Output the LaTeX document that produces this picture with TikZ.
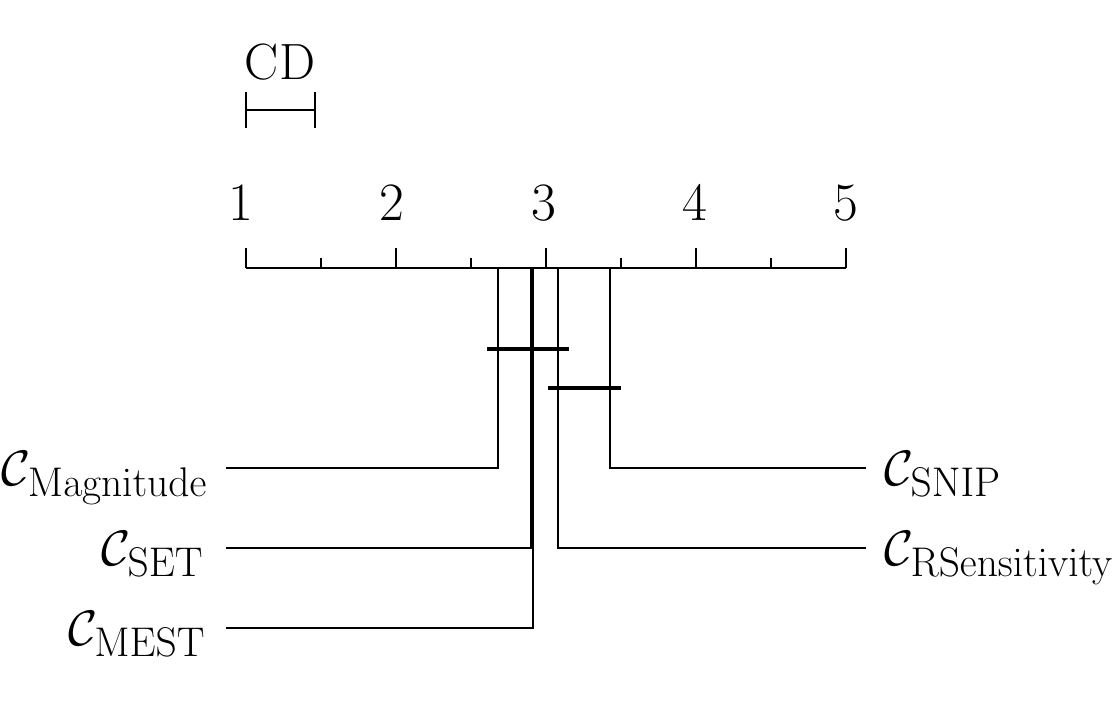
\documentclass[tikz,border=0pt]{standalone}
\begin{document}
\begin{tikzpicture}[x=0.5pt,y=-0.5pt,
  thin line/.style={line width=0.75pt},
  clique/.style={line width=1.8pt},
  num/.style={anchor=base,font=\fontsize{27}{30}\selectfont},
  lab/.style={font=\fontsize{28}{32}\selectfont,inner sep=0pt}]
\useasboundingbox (0,0) rectangle (1113,719);
% axis
\draw[thin line] (246,268) -- (846,268);
\foreach \i in {0,...,4}{
  \draw[thin line] (246+150*\i,268) -- (246+150*\i,248);
  \pgfmathtruncatemacro{\n}{\i+1}
  \node[num] (n\n) at (241+150*\i+\i*1.2,220) {\n};
}
\foreach \i in {0,...,3}{
  \draw[thin line] (321+150*\i,268) -- (321+150*\i,258);
}
% CD
\node[anchor=base,font=\fontsize{25.5}{30}\selectfont] (cd) at (280,79) {CD};
\draw[thin line] (246,110) -- (315,110);
\draw[thin line] (246,92) -- (246,128);
\draw[thin line] (315,92) -- (315,128);
% methods
\coordinate (pMag) at (498,268); \coordinate (eMag) at (226,468);
\coordinate (pSET) at (531,268); \coordinate (eSET) at (226,548);
\coordinate (pMEST) at (533,268); \coordinate (eMEST) at (226,628);
\coordinate (pSNIP) at (610,268); \coordinate (eSNIP) at (866,468);
\coordinate (pRS) at (558,268); \coordinate (eRS) at (866,548);
\draw[thin line] (pMag) |- (eMag);
\draw[thin line] (pSET) |- (eSET);
\draw[thin line] (pMEST) |- (eMEST);
\draw[thin line] (pSNIP) |- (eSNIP);
\draw[thin line] (pRS) |- (eRS);
\node[lab,anchor=base east] (lMag) at (208,485) {$\mathcal{C}_{\mathrm{Magnitude}}$};
\node[lab,anchor=base east] (lSET) at (204,565) {$\mathcal{C}_{\mathrm{SET}}$};
\node[lab,anchor=base east] (lMEST) at (206,645) {$\mathcal{C}_{\mathrm{MEST}}$};
\node[lab,anchor=base west] (lSNIP) at (884,485) {$\mathcal{C}_{\mathrm{SNIP}}$};
\node[lab,anchor=base west] (lRS) at (884,565) {$\mathcal{C}_{\mathrm{RSensitivity}}$};
% cliques
\coordinate (c1a) at (487,349); \coordinate (c1b) at (569,349);
\coordinate (c2a) at (548,388); \coordinate (c2b) at (621,388);
\draw[clique] (c1a) -- (c1b);
\draw[clique] (c2a) -- (c2b);
\end{tikzpicture}
\end{document}
